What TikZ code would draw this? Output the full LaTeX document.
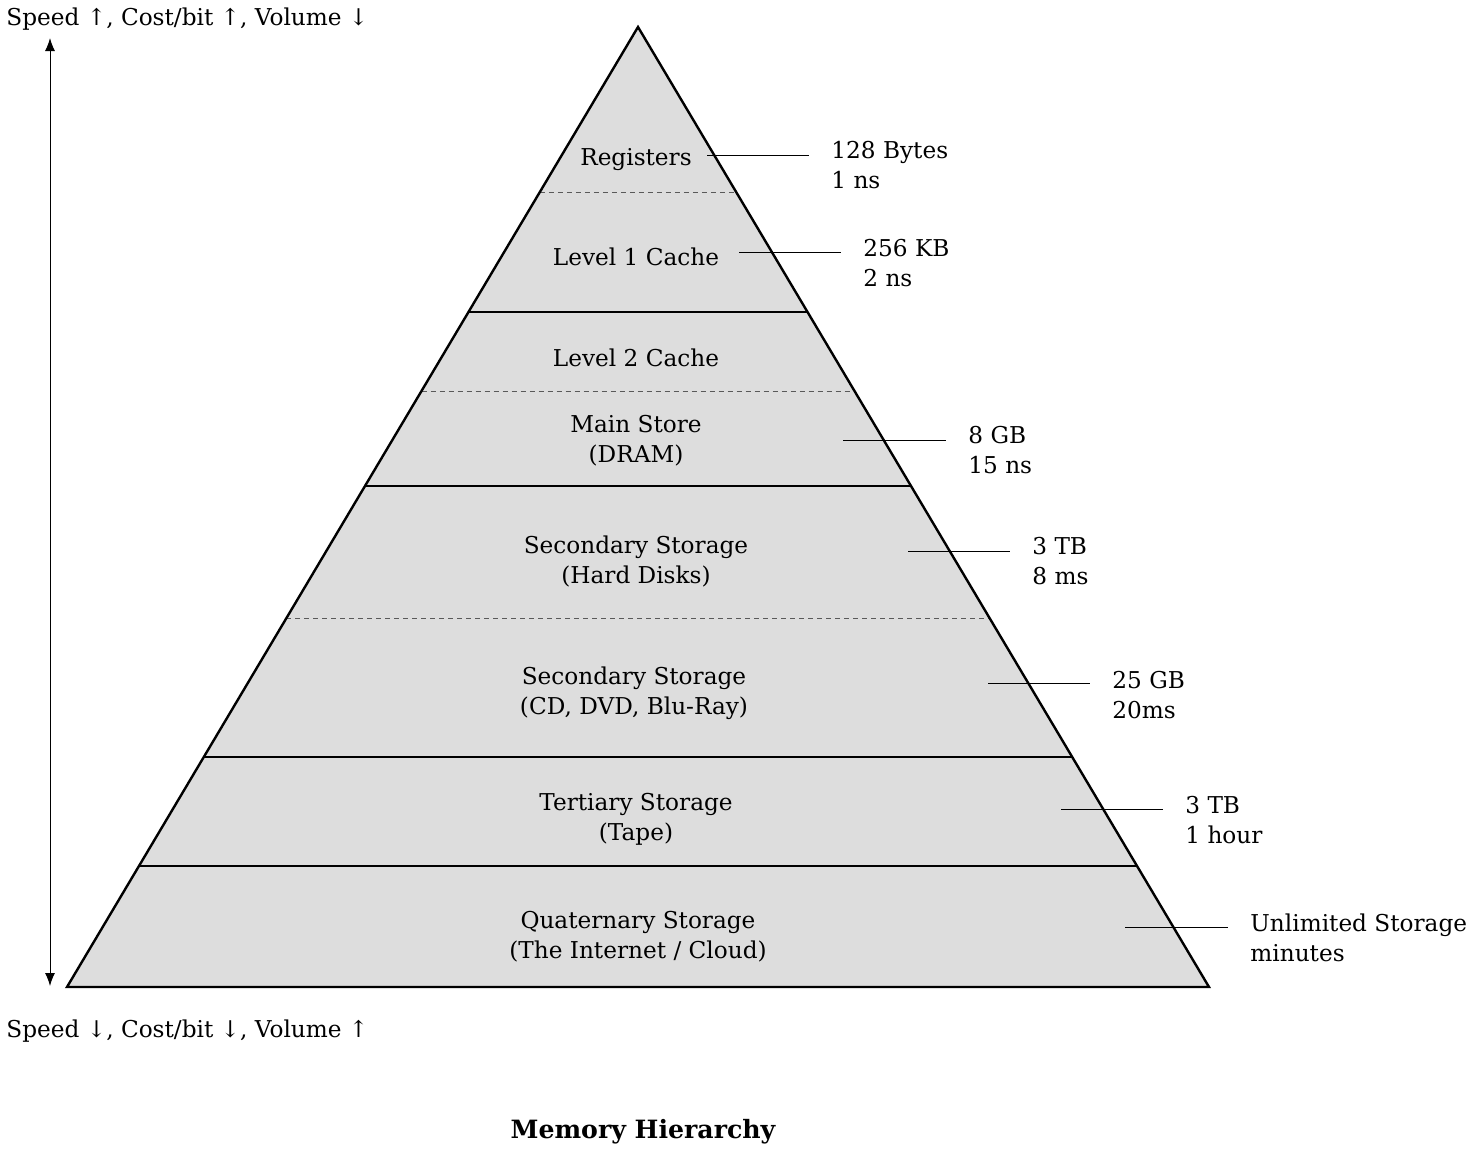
\documentclass[tikz,border=0pt]{standalone}
\usepackage{fontspec}
\setmainfont{DejaVu Serif}
\usetikzlibrary{arrows.meta,calc}

\begin{document}
\begin{tikzpicture}[x=0.5pt, y=-0.5pt,
  level/.style={align=center, inner sep=0pt,
    font=\fontsize{11.6}{15}\selectfont},
  info/.style={align=left, anchor=west, inner sep=0pt,
    font=\fontsize{11.6}{15}\selectfont},
  lead/.style={draw=black, line width=0.5pt, shorten >=11pt},
  solidcut/.style={draw=black, line width=1.1pt},
  dashcut/.style={draw=black!65, line width=0.5pt, dash pattern=on 2.5pt off 2pt},
  axis/.style={{Latex[length=6.5pt,width=5pt]}-{Latex[length=6.5pt,width=5pt]},
    draw=black, line width=0.5pt}
]
\useasboundingbox (0,0) rectangle (1467,1151);

% pyramid
\coordinate (apex) at (638,27);
\coordinate (bl) at (67,987);
\coordinate (br) at (1209,987);
\fill[black!13.5] (apex) -- (bl) -- (br) -- cycle;

% layer boundaries
\draw[dashcut] ($(apex)!0.171875!(bl)$) -- ($(apex)!0.171875!(br)$);
\draw[solidcut] ($(apex)!0.296875!(bl)$) -- ($(apex)!0.296875!(br)$);
\draw[dashcut] ($(apex)!0.379167!(bl)$) -- ($(apex)!0.379167!(br)$);
\draw[solidcut] ($(apex)!0.478125!(bl)$) -- ($(apex)!0.478125!(br)$);
\draw[dashcut] ($(apex)!0.615625!(bl)$) -- ($(apex)!0.615625!(br)$);
\draw[solidcut] ($(apex)!0.760417!(bl)$) -- ($(apex)!0.760417!(br)$);
\draw[solidcut] ($(apex)!0.873958!(bl)$) -- ($(apex)!0.873958!(br)$);
\draw[line width=1.2pt, line join=miter] (apex) -- (bl) -- (br) -- cycle;

% levels
\node[level] (reg) at (636,160) {Registers};
\node[level] (lone) at (636,257) {Level 1 Cache};
\node[level] (ltwo) at (636,358) {Level 2 Cache};
\node[level] (dram) at (636,441) {Main Store\\(DRAM)};
\node[level] (hdd) at (636,561) {Secondary Storage\\(Hard Disks)};
\node[level] (optical) at (634,693) {Secondary Storage\\(CD, DVD, Blu-Ray)};
\node[level] (tape) at (636,819) {Tertiary Storage\\(Tape)};
\node[level] (cloud) at (638,937) {Quaternary Storage\\(The Internet / Cloud)};

% sizes and access times
\node[info] (reginfo) at (831,165) {128 Bytes\\1 ns};
\node[info] (loneinfo) at (863,263) {256 KB\\2 ns};
\node[info] (draminfo) at (968,450) {8 GB\\15 ns};
\node[info] (hddinfo) at (1032,561) {3 TB\\8 ms};
\node[info] (opticalinfo) at (1112,695) {25 GB\\20ms};
\node[info] (tapeinfo) at (1185,820) {3 TB\\1 hour};
\node[info] (cloudinfo) at (1250,938) {Unlimited Storage\\minutes};

\coordinate (regL) at (707,155);
\coordinate (loneL) at (739,252);
\coordinate (dramL) at (843,440);
\coordinate (hddL) at (908,551);
\coordinate (opticalL) at (988,683);
\coordinate (tapeL) at (1061,809);
\coordinate (cloudL) at (1125,927);
\draw[lead] (regL) -- (reginfo.west |- regL);
\draw[lead] (loneL) -- (loneinfo.west |- loneL);
\draw[lead] (dramL) -- (draminfo.west |- dramL);
\draw[lead] (hddL) -- (hddinfo.west |- hddL);
\draw[lead] (opticalL) -- (opticalinfo.west |- opticalL);
\draw[lead] (tapeL) -- (tapeinfo.west |- tapeL);
\draw[lead] (cloudL) -- (cloudinfo.west |- cloudL);

% speed axis
\node[info] (fast) at (6,19) {Speed ↑, Cost/bit ↑, Volume ↓};
\node[info] (slow) at (6,1031) {Speed ↓, Cost/bit ↓, Volume ↑};
\coordinate (axtop) at (50,38);
\coordinate (axbot) at (50,986);
\draw[axis] (axbot) -- (axtop);

\node[level, font=\fontsize{12.6}{15}\selectfont\bfseries] (title) at (643,1132) {Memory Hierarchy};
\end{tikzpicture}
\end{document}
